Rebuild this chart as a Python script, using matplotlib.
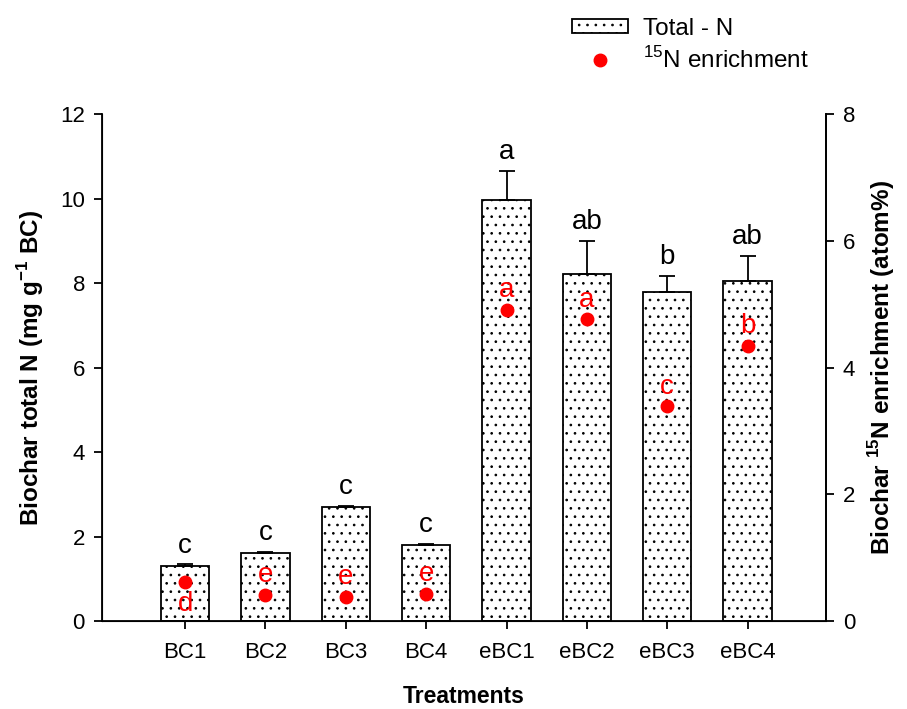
import matplotlib.pyplot as plt
import numpy as np

plt.rcParams['font.family'] = ['Liberation Sans', 'DejaVu Sans']
plt.rcParams['hatch.linewidth'] = 0.7
plt.rcParams['mathtext.fontset'] = 'custom'
plt.rcParams['mathtext.rm'] = 'Liberation Sans'
plt.rcParams['mathtext.bf'] = 'Liberation Sans:bold'

treatments = ['BC1', 'BC2', 'BC3', 'BC4', 'eBC1', 'eBC2', 'eBC3', 'eBC4']
total_n = [1.30, 1.61, 2.70, 1.80, 9.96, 8.21, 7.79, 8.05]
total_n_err = [0.04, 0.03, 0.03, 0.03, 0.70, 0.78, 0.38, 0.60]
enrich = [0.62, 0.41, 0.38, 0.43, 4.91, 4.76, 3.39, 4.34]
letters_n = ['c', 'c', 'c', 'c', 'a', 'ab', 'b', 'ab']
letters_15n = ['d', 'e', 'e', 'e', 'a', 'a', 'c', 'b']

x = np.arange(len(treatments))

fig = plt.figure(figsize=(9.07, 7.09), dpi=100)
ax = fig.add_axes([0.112, 0.124, 0.799, 0.715])

# only the upper half of the error bar is drawn
err = [np.zeros(len(total_n_err)), total_n_err]
bars = ax.bar(x, total_n, 0.6, yerr=err, color='white', edgecolor='black',
              linewidth=1.3, hatch='..', label='Total - N',
              error_kw=dict(ecolor='black', elinewidth=1.3, capsize=6, capthick=1.3))
for xi, v, e, t in zip(x, total_n, total_n_err, letters_n):
    ax.text(xi, v + e + 0.28, t, ha='center', va='baseline', fontsize=20)

ax.set_xlim(-1.04, 7.98)
ax.set_ylim(0, 12)
ax.set_yticks(range(0, 13, 2))
ax.set_xticks(x)
ax.set_xticklabels(treatments)
ax.tick_params(labelsize=16, direction='out', length=6, width=1.3, pad=6)
ax.tick_params(axis='x', pad=9)
ax.spines['top'].set_visible(False)
for s in ['left', 'bottom', 'right']:
    ax.spines[s].set_linewidth(1.3)
ax.set_xlabel('Treatments', fontsize=16.5, fontweight='bold', labelpad=16)
ax.set_ylabel(r'Biochar total N (mg g$^{\mathbf{-1}}$ BC)', fontsize=17.5,
              fontweight='bold', labelpad=10)

ax2 = ax.twinx()
ax2.set_ylim(0, 8)
ax2.set_yticks(range(0, 9, 2))
ax2.tick_params(labelsize=16, direction='out', length=6, width=1.3, pad=6)
ax2.spines['top'].set_visible(False)
ax2.spines['right'].set_linewidth(1.3)
dots = ax2.plot(x, enrich, 'o', color='red', markersize=9, linestyle='none',
                label='$^{15}$N enrichment')
for xi, v, t in zip(x, enrich, letters_15n):
    if t == 'd':
        ax2.text(xi, v - 0.15, t, ha='center', va='top', fontsize=20, color='red')
    else:
        ax2.text(xi, v + 0.2, t, ha='center', va='baseline', fontsize=20, color='red')
ax2.set_ylabel(r'Biochar $^{\mathbf{15}}$N enrichment (atom%)', fontsize=17.5,
               fontweight='bold', rotation=90, labelpad=8)

fig.legend([bars, dots[0]], ['Total - N', '$^{15}$N enrichment'],
           loc='upper left', bbox_to_anchor=(0.607, 1.006), frameon=False,
           fontsize=17.5, handlelength=2.3, handleheight=0.55, handletextpad=0.6,
           labelspacing=0.3)

fig.savefig('out.png', dpi=100)
